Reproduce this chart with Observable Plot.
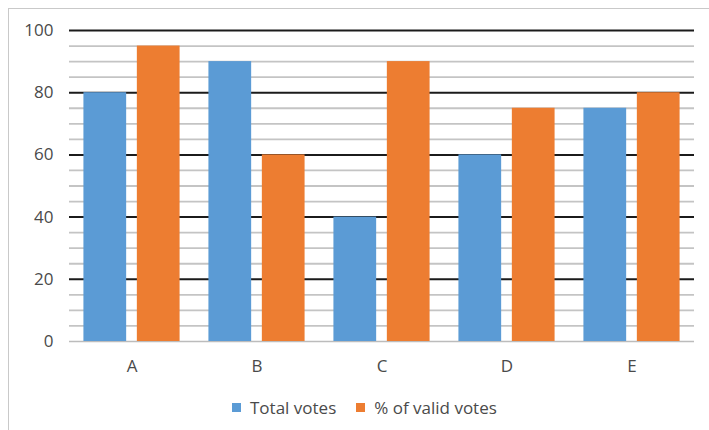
<!DOCTYPE html>
<html>
<head>
<meta charset="utf-8">
<script src="https://cdn.jsdelivr.net/npm/d3@7"></script>
<script src="https://cdn.jsdelivr.net/npm/@observablehq/plot@0.6"></script>
<style>
  html, body { margin: 0; padding: 0; background: #fff; }
  body { width: 709px; height: 430px; overflow: hidden; font-family: "Open Sans", "Liberation Sans", sans-serif; }
  #frame { position: absolute; left: 8px; top: 8px; width: 701px; height: 422px; border-left: 1.5px solid #c9c9c9; border-top: 1.5px solid #c9c9c9; box-sizing: border-box; }
  #chart { position: absolute; left: 0; top: 0; }
  #legend { position: absolute; left: 232px; top: 396px; display: flex; gap: 20px; font-size: 17px; color: #4a4a4a; }
  .item { display: flex; align-items: center; gap: 9px; }
  .sw { width: 9px; height: 9px; display: inline-block; }
</style>
</head>
<body>
<div id="frame"></div>
<div id="chart"></div>
<div id="legend"></div>
<script>
const categories = ["A", "B", "C", "D", "E"];
const seriesNames = ["Total votes", "% of valid votes"];
const totalVotes = [80, 90, 40, 60, 75];
const validVotes = [95, 60, 90, 75, 80];
const majorTicks = [0, 20, 40, 60, 80, 100];
const minorTicks = [5, 10, 15, 25, 30, 35, 45, 50, 55, 65, 70, 75, 85, 90, 95];
const colors = ["#5B9BD5", "#ED7D31"];

const rows = [];
categories.forEach((c, i) => {
  rows.push({cat: c, series: seriesNames[0], value: totalVotes[i]});
  rows.push({cat: c, series: seriesNames[1], value: validVotes[i]});
});

const chart = Plot.plot({
  width: 709,
  height: 386,
  marginTop: 30,
  marginBottom: 45,
  marginLeft: 67,
  marginRight: 13,
  style: {fontFamily: "'Open Sans', 'Liberation Sans', sans-serif", fontSize: "17px", color: "#4a4a4a", background: "transparent"},
  fx: {domain: categories, padding: 0, label: null, tickSize: 0, tickPadding: 18},
  x: {domain: seriesNames, axis: null, paddingInner: 0.2, paddingOuter: 0.27, round: false},
  y: {domain: [0, 100], ticks: majorTicks, tickSize: 0, tickPadding: 16, label: null, tickFormat: d3.format("d")},
  color: {domain: seriesNames, range: colors},
  marks: [
    Plot.ruleY(minorTicks, {stroke: "#c4c4c4", strokeWidth: 1.8}),
    Plot.ruleY(majorTicks.filter(d => d > 0), {stroke: "#1b1b1b", strokeWidth: 2}),
    Plot.ruleY([0], {stroke: "#bcbcbc", strokeWidth: 1.6}),
    Plot.barY(rows, {fx: "cat", x: "series", y: "value", fill: "series"})
  ]
});
document.getElementById("chart").appendChild(chart);

const legend = document.getElementById("legend");
seriesNames.forEach((s, i) => {
  const it = document.createElement("div");
  it.className = "item";
  const sw = document.createElement("span");
  sw.className = "sw";
  sw.style.background = colors[i];
  const t = document.createElement("span");
  t.textContent = s;
  it.appendChild(sw);
  it.appendChild(t);
  legend.appendChild(it);
});
</script>
</body>
</html>
